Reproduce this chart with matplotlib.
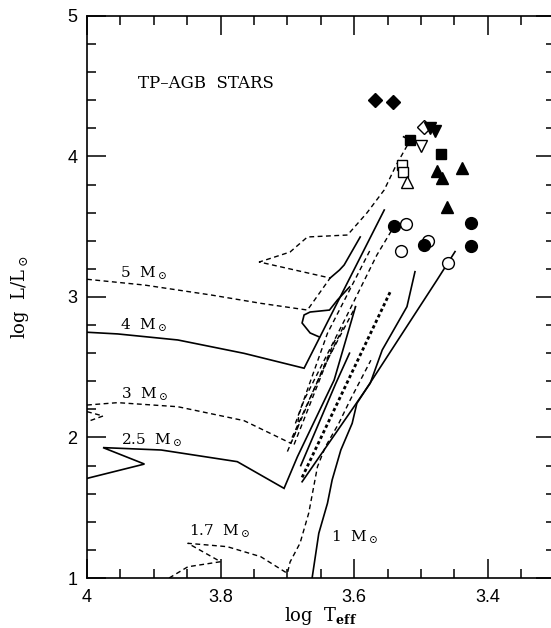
import matplotlib
matplotlib.use("Agg")
import matplotlib.pyplot as plt
from matplotlib.ticker import MultipleLocator

plt.rcParams["mathtext.fontset"] = "dejavuserif"

# evolutionary tracks (log Teff, log L/Lsun)
trk5_x = [4.000, 3.914, 3.814, 3.740, 3.670, 3.636, 3.742, 3.696, 3.670, 3.610, 3.581, 3.555, 3.537, 3.516]
trk5_y = [3.126, 3.085, 3.014, 2.955, 2.907, 3.135, 3.249, 3.320, 3.427, 3.441, 3.598, 3.762, 3.940, 4.117]

trk4_x = [4.000, 3.954, 3.864, 3.765, 3.675, 3.555]
trk4_y = [2.749, 2.737, 2.694, 2.599, 2.493, 3.619]
loop4_x = [3.607, 3.625, 3.637, 3.666, 3.675, 3.678, 3.666, 3.652]
loop4_y = [3.071, 2.979, 2.907, 2.893, 2.872, 2.815, 2.744, 2.715]
agb4_x = [3.636, 3.622, 3.615, 3.591]
agb4_y = [3.135, 3.192, 3.228, 3.427]

trk3_x = [4.000, 3.954, 3.864, 3.765, 3.695, 3.685, 3.683, 3.675, 3.610, 3.566, 3.540]
trk3_y = [2.231, 2.248, 2.219, 2.120, 1.959, 2.065, 2.160, 2.267, 2.877, 3.299, 3.505]
tail3_x = [4.000, 3.976, 4.000]
tail3_y = [2.184, 2.153, 2.112]

trk25_x = [4.000, 3.914, 3.976, 3.889, 3.775, 3.705, 3.685, 3.630, 3.598]
trk25_y = [1.709, 1.811, 1.928, 1.911, 1.828, 1.638, 1.863, 2.409, 2.931]
agb25_x = [3.680, 3.628, 3.607]
agb25_y = [1.800, 2.380, 2.600]

trk17_x = [3.877, 3.849, 3.800, 3.849, 3.790, 3.740, 3.700, 3.696, 3.681, 3.668, 3.655, 3.643, 3.623, 3.606, 3.575]
trk17_y = [1.000, 1.080, 1.116, 1.247, 1.223, 1.152, 1.033, 1.114, 1.249, 1.463, 1.792, 1.935, 2.101, 2.267, 2.550]

trk1_x = [3.663, 3.653, 3.640, 3.633, 3.620, 3.603, 3.596, 3.476, 3.449]
trk1_y = [1.000, 1.318, 1.532, 1.698, 1.911, 2.101, 2.243, 3.121, 3.323]
agb1_x = [3.678, 3.576, 3.558, 3.521, 3.509]
agb1_y = [1.685, 2.386, 2.623, 2.931, 3.180]

tp_x = [3.678, 3.546]
tp_y = [1.716, 3.037]
dash_a_x = [3.690, 3.640, 3.598]
dash_a_y = [1.950, 2.552, 2.931]
dash_b_x = [3.688, 3.640, 3.576]
dash_b_y = [2.100, 2.742, 3.335]
dash_c_x = [3.700, 3.655, 3.628]
dash_c_y = [1.900, 2.400, 2.700]
dash_d_x = [3.693, 3.650, 3.615]
dash_d_y = [2.000, 2.450, 2.800]

# observed TP-AGB stars
fdia_x, fdia_y = [3.569, 3.542], [4.40, 4.39]
odia_x, odia_y = [3.495], [4.21]
fdtri_x, fdtri_y = [3.487, 3.479], [4.20, 4.18]
odtri_x, odtri_y = [3.500], [4.075]
fsq_x, fsq_y = [3.516, 3.470], [4.117, 4.018]
osq_x, osq_y = [3.529, 3.527], [3.940, 3.892]
ftri_x, ftri_y = [3.438, 3.476, 3.469, 3.461], [3.916, 3.900, 3.850, 3.638]
otri_x, otri_y = [3.521], [3.821]
fcirc_x, fcirc_y = [3.540, 3.425, 3.495, 3.425], [3.505, 3.529, 3.370, 3.365]
ocirc_x, ocirc_y = [3.522, 3.530, 3.489, 3.460], [3.520, 3.330, 3.399, 3.240]

mass_labels = ["5  M$_\\odot$", "4  M$_\\odot$", "3  M$_\\odot$", "2.5  M$_\\odot$", "1.7  M$_\\odot$", "1  M$_\\odot$"]
label_x = [3.951, 3.951, 3.949, 3.949, 3.847, 3.635]
label_y = [3.17, 2.80, 2.31, 1.98, 1.33, 1.29]

fig = plt.figure(figsize=(5.51, 6.28), dpi=100)
ax = fig.add_axes([0.1579, 0.0796, 0.8486, 0.8950])

solid = dict(color="black", lw=1.2, solid_joinstyle="miter")
dashed = dict(color="black", lw=1.0, dashes=(3.5, 2.5))

ax.plot(trk5_x, trk5_y, **dashed)
ax.plot([3.516, 3.526], [4.117, 4.140], **solid)
ax.plot(trk4_x, trk4_y, **solid)
ax.plot(loop4_x, loop4_y, **solid)
ax.plot(agb4_x, agb4_y, **solid)
ax.plot(trk3_x, trk3_y, **dashed)
ax.plot(tail3_x, tail3_y, **dashed)
ax.plot(trk25_x, trk25_y, **solid)
ax.plot(agb25_x, agb25_y, **solid)
ax.plot(trk17_x, trk17_y, **dashed)
ax.plot(trk1_x, trk1_y, **solid)
ax.plot(agb1_x, agb1_y, **solid)
ax.plot(tp_x, tp_y, color="black", lw=2.0, dashes=(1.2, 1.0))
for dx, dy in [(dash_a_x, dash_a_y), (dash_b_x, dash_b_y),
               (dash_c_x, dash_c_y), (dash_d_x, dash_d_y)]:
    ax.plot(dx, dy, **dashed)

mk = dict(ls="none", color="black", mec="black", mew=1.0)
ax.plot(fdia_x, fdia_y, "D", ms=7, **mk)
ax.plot(odia_x, odia_y, "D", ms=7, mfc="white", **mk)
ax.plot(fdtri_x, fdtri_y, "v", ms=8, **mk)
ax.plot(odtri_x, odtri_y, "v", ms=8, mfc="white", **mk)
ax.plot(fsq_x, fsq_y, "s", ms=6.5, **mk)
ax.plot(osq_x, osq_y, "s", ms=6.5, mfc="white", **mk)
ax.plot(ftri_x, ftri_y, "^", ms=8, **mk)
ax.plot(otri_x, otri_y, "^", ms=8, mfc="white", **mk)
ax.plot(ocirc_x, ocirc_y, "o", ms=8.5, mfc="white", **mk)
ax.plot(fcirc_x, fcirc_y, "o", ms=8.5, **mk)

for txt, lx, ly in zip(mass_labels, label_x, label_y):
    ax.text(lx, ly, txt, family="DejaVu Serif", fontsize=11, va="center", ha="left")

ax.text(3.924, 4.52, "TP\u2013AGB  STARS", family="DejaVu Serif", fontsize=12,
        va="center", ha="left")

ax.set_xlim(4.0, 3.3)
ax.set_ylim(1, 5)
ax.xaxis.set_major_locator(MultipleLocator(0.2))
ax.xaxis.set_minor_locator(MultipleLocator(0.05))
ax.yaxis.set_major_locator(MultipleLocator(1))
ax.yaxis.set_minor_locator(MultipleLocator(0.2))
ax.tick_params(which="both", direction="in", top=True, right=True, width=1.1,
               labelsize=13, labelfontfamily="Liberation Sans")
ax.tick_params(which="major", length=14)
ax.tick_params(which="minor", length=6.5)
ax.tick_params(axis="x", pad=8)
ax.tick_params(axis="y", pad=7)
ax.set_xticks([4.0, 3.8, 3.6, 3.4], ["4", "3.8", "3.6", "3.4"])
for s in ax.spines.values():
    s.set_linewidth(1.2)

ax.set_xlabel("log  T$_{\\mathbf{eff}}$", family="DejaVu Serif", fontsize=13, labelpad=-1)
ax.set_ylabel("log  L/L$_\\odot$", family="DejaVu Serif", fontsize=13, labelpad=26)

fig.savefig("out.png", dpi=100)
